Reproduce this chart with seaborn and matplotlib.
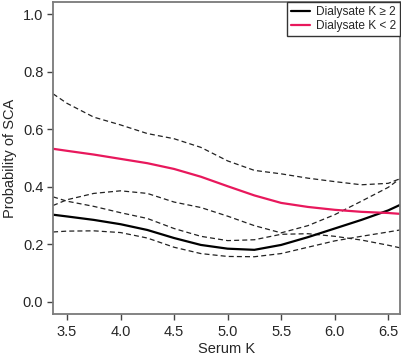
import numpy as np
import pandas as pd
import matplotlib
matplotlib.use('Agg')
import matplotlib.pyplot as plt
import seaborn as sns

# ---- data ----
serum_k = [3.37, 3.5, 3.75, 4.0, 4.25, 4.5, 4.75, 5.0, 5.25, 5.5, 5.75, 6.0, 6.25, 6.5, 6.61]

# Dialysate K >= 2
high_fit = [0.303, 0.297, 0.285, 0.270, 0.250, 0.222, 0.198, 0.185, 0.181, 0.198, 0.225, 0.255, 0.285, 0.318, 0.337]
high_upper = [0.335, 0.355, 0.377, 0.386, 0.377, 0.347, 0.328, 0.298, 0.265, 0.240, 0.265, 0.303, 0.350, 0.398, 0.428]
high_lower = [0.243, 0.246, 0.247, 0.241, 0.222, 0.190, 0.168, 0.158, 0.157, 0.168, 0.190, 0.212, 0.228, 0.243, 0.250]

# Dialysate K < 2
low_fit = [0.532, 0.525, 0.512, 0.497, 0.482, 0.462, 0.435, 0.402, 0.370, 0.344, 0.330, 0.320, 0.313, 0.309, 0.306]
low_upper = [0.723, 0.690, 0.642, 0.615, 0.585, 0.567, 0.537, 0.490, 0.457, 0.445, 0.430, 0.418, 0.407, 0.412, 0.428]
low_lower = [0.365, 0.350, 0.332, 0.310, 0.290, 0.255, 0.228, 0.213, 0.216, 0.235, 0.237, 0.228, 0.215, 0.197, 0.188]

x_ticks = [3.5, 4.0, 4.5, 5.0, 5.5, 6.0, 6.5]
y_ticks = [0.0, 0.2, 0.4, 0.6, 0.8, 1.0]

red = '#E8185C'
spine_col = '#7a7a7a'

sns.set_style('ticks')
plt.rcParams['font.family'] = ['Liberation Sans', 'DejaVu Sans']

fig = plt.figure(figsize=(4.02, 3.57), dpi=100)
ax = fig.add_axes([0.132, 0.1204, 0.863, 0.874])

dash = (4, 2.5)
for ys in [low_upper, low_lower, high_upper, high_lower]:
    sns.lineplot(x=serum_k, y=ys, ax=ax, color='#222222', linewidth=0.9,
                 dashes=False, estimator=None)
    ax.lines[-1].set_dashes(dash)

sns.lineplot(x=serum_k, y=high_fit, ax=ax, color='black', linewidth=1.6,
             estimator=None, label='Dialysate K \u2265 2')
sns.lineplot(x=serum_k, y=low_fit, ax=ax, color=red, linewidth=1.6,
             estimator=None, label='Dialysate K < 2')

ax.set_xlim(3.37, 6.61)
ax.set_ylim(-0.042, 1.042)
ax.set_xticks(x_ticks)
ax.set_xticklabels([f'{v:.1f}' for v in x_ticks])
ax.set_yticks(y_ticks)
ax.set_yticklabels([f'{v:.1f}' for v in y_ticks])
ax.tick_params(axis='both', labelsize=10.5, length=4, width=1, color='#444444')
ax.tick_params(axis='x', pad=4)
ax.tick_params(axis='y', pad=3)

for s in ax.spines.values():
    s.set_visible(True)
    s.set_color(spine_col)
    s.set_linewidth(1.3)

ax.set_xlabel('Serum K', fontsize=10.5, labelpad=2)
ax.set_ylabel('Probability of SCA', fontsize=10.5, labelpad=4)

leg = ax.legend(loc='upper right', borderaxespad=0, fancybox=False, fontsize=8.6,
                handlelength=1.6, handletextpad=0.45, borderpad=0.35,
                labelspacing=0.15, framealpha=1)
leg.get_frame().set_edgecolor('#333333')
leg.get_frame().set_linewidth(1.0)

fig.savefig('out.png', dpi=100)
